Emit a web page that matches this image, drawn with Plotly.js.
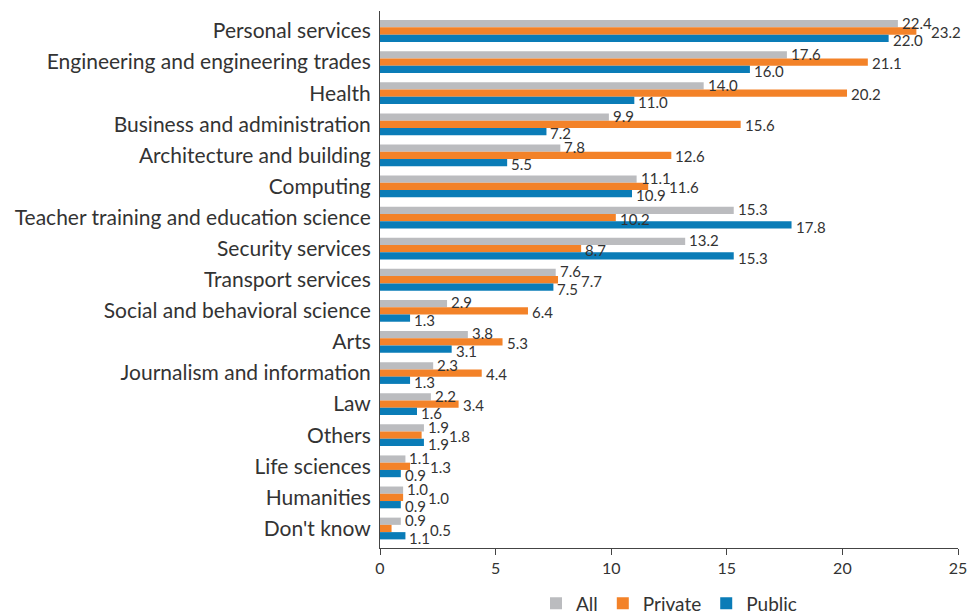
<!DOCTYPE html>
<html>
<head>
<meta charset="utf-8">
<script src="https://cdn.plot.ly/plotly-3.0.1.min.js"></script>
<style>html,body{margin:0;padding:0;background:#fff}#chart{width:972px;height:615px}</style>
</head>
<body>
<div id="chart"></div>
<script>
const categories = ["Personal services","Engineering and engineering trades","Health","Business and administration","Architecture and building","Computing","Teacher training and education science","Security services","Transport services","Social and behavioral science","Arts","Journalism and information","Law","Others","Life sciences","Humanities","Don't know"];
const allValues     = [22.4,17.6,14.0,9.9,7.8,11.1,15.3,13.2,7.6,2.9,3.8,2.3,2.2,1.9,1.1,1.0,0.9];
const privateValues = [23.2,21.1,20.2,15.6,12.6,11.6,10.2,8.7,7.7,6.4,5.3,4.4,3.4,1.8,1.3,1.0,0.5];
const publicValues  = [22.0,16.0,11.0,7.2,5.5,10.9,17.8,15.3,7.5,1.3,3.1,1.3,1.6,1.9,0.9,0.9,1.1];
const seriesNames = ["All","Private","Public"];
const xTicks = [0,5,10,15,20,25];

const colors = ["#bbbcbf","#f38228","#0a7cb7"];
const seriesData = [allValues, privateValues, publicValues];
const font = "Lato, 'Open Sans', sans-serif";
const textColor = "#333333";

const W = 972, H = 615;
const margin = {l: 380, r: 14, t: 11, b: 67, autoexpand: false};
const xMax = 25;
const pxPerUnit = (W - margin.l - margin.r) / xMax;
const labelSize = 15;

function textWidth(s) {
  let w = 0;
  for (const c of s) w += (c === "." ? 0.25 : 0.51) * labelSize;
  return w;
}

const traces = seriesData.map((vals, i) => ({
  type: "bar",
  orientation: "h",
  name: seriesNames[i],
  x: vals,
  y: categories,
  marker: {color: colors[i]},
  hoverinfo: "x+name"
}));

// vertical offset (px) of each series' label relative to the group centre
const yShifts = [8.5, -1, -9];
const gap = 3;
const annotations = [];
categories.forEach((cat, j) => {
  const labels = seriesData.map((vals, i) => {
    const t = vals[j].toFixed(1);
    const start = vals[j] * pxPerUnit + gap;
    return {t: t, v: vals[j], start: start, w: textWidth(t)};
  });
  // push the middle (Private) label right when it collides with its neighbours
  const p = labels[1];
  for (let pass = 0; pass < 2; pass++) {
    [labels[0], labels[2]].forEach(o => {
      if (o.start < p.start + p.w && o.start + o.w + 1 > p.start) {
        p.start = o.start + o.w + 2;
      }
    });
  }
  labels.forEach((lb, i) => {
    annotations.push({
      x: lb.v, y: cat, xref: "x", yref: "y",
      text: lb.t, showarrow: false,
      xanchor: "left", yanchor: "middle",
      xshift: lb.start - lb.v * pxPerUnit - 1, yshift: yShifts[i],
      font: {family: font, size: labelSize, color: textColor}
    });
  });
});

const layout = {
  width: W, height: H,
  margin: margin,
  paper_bgcolor: "#ffffff", plot_bgcolor: "#ffffff",
  barmode: "group",
  bargap: 0.3, bargroupgap: 0,
  font: {family: font, color: textColor},
  xaxis: {
    range: [0, xMax], tickvals: xTicks, ticktext: xTicks.map(String),
    showgrid: false, zeroline: false,
    showline: true, linecolor: "#444444", linewidth: 1,
    ticks: "outside", ticklen: 6, tickcolor: "#444444",
    tickfont: {family: font, size: 16, color: textColor}
  },
  yaxis: {
    autorange: "reversed",
    showgrid: false, zeroline: false,
    showline: true, linecolor: "#444444", linewidth: 1,
    ticks: "", ticklabelstandoff: 4,
    tickfont: {family: font, size: 21, color: textColor}
  },
  legend: {
    orientation: "h", x: 0.5, xanchor: "center", y: -0.068, yanchor: "top",
    font: {family: font, size: 19, color: textColor},
    traceorder: "normal"
  },
  annotations: annotations,
  showlegend: true
};

Plotly.newPlot("chart", traces, layout, {displayModeBar: false, staticPlot: true});
</script>
</body>
</html>
